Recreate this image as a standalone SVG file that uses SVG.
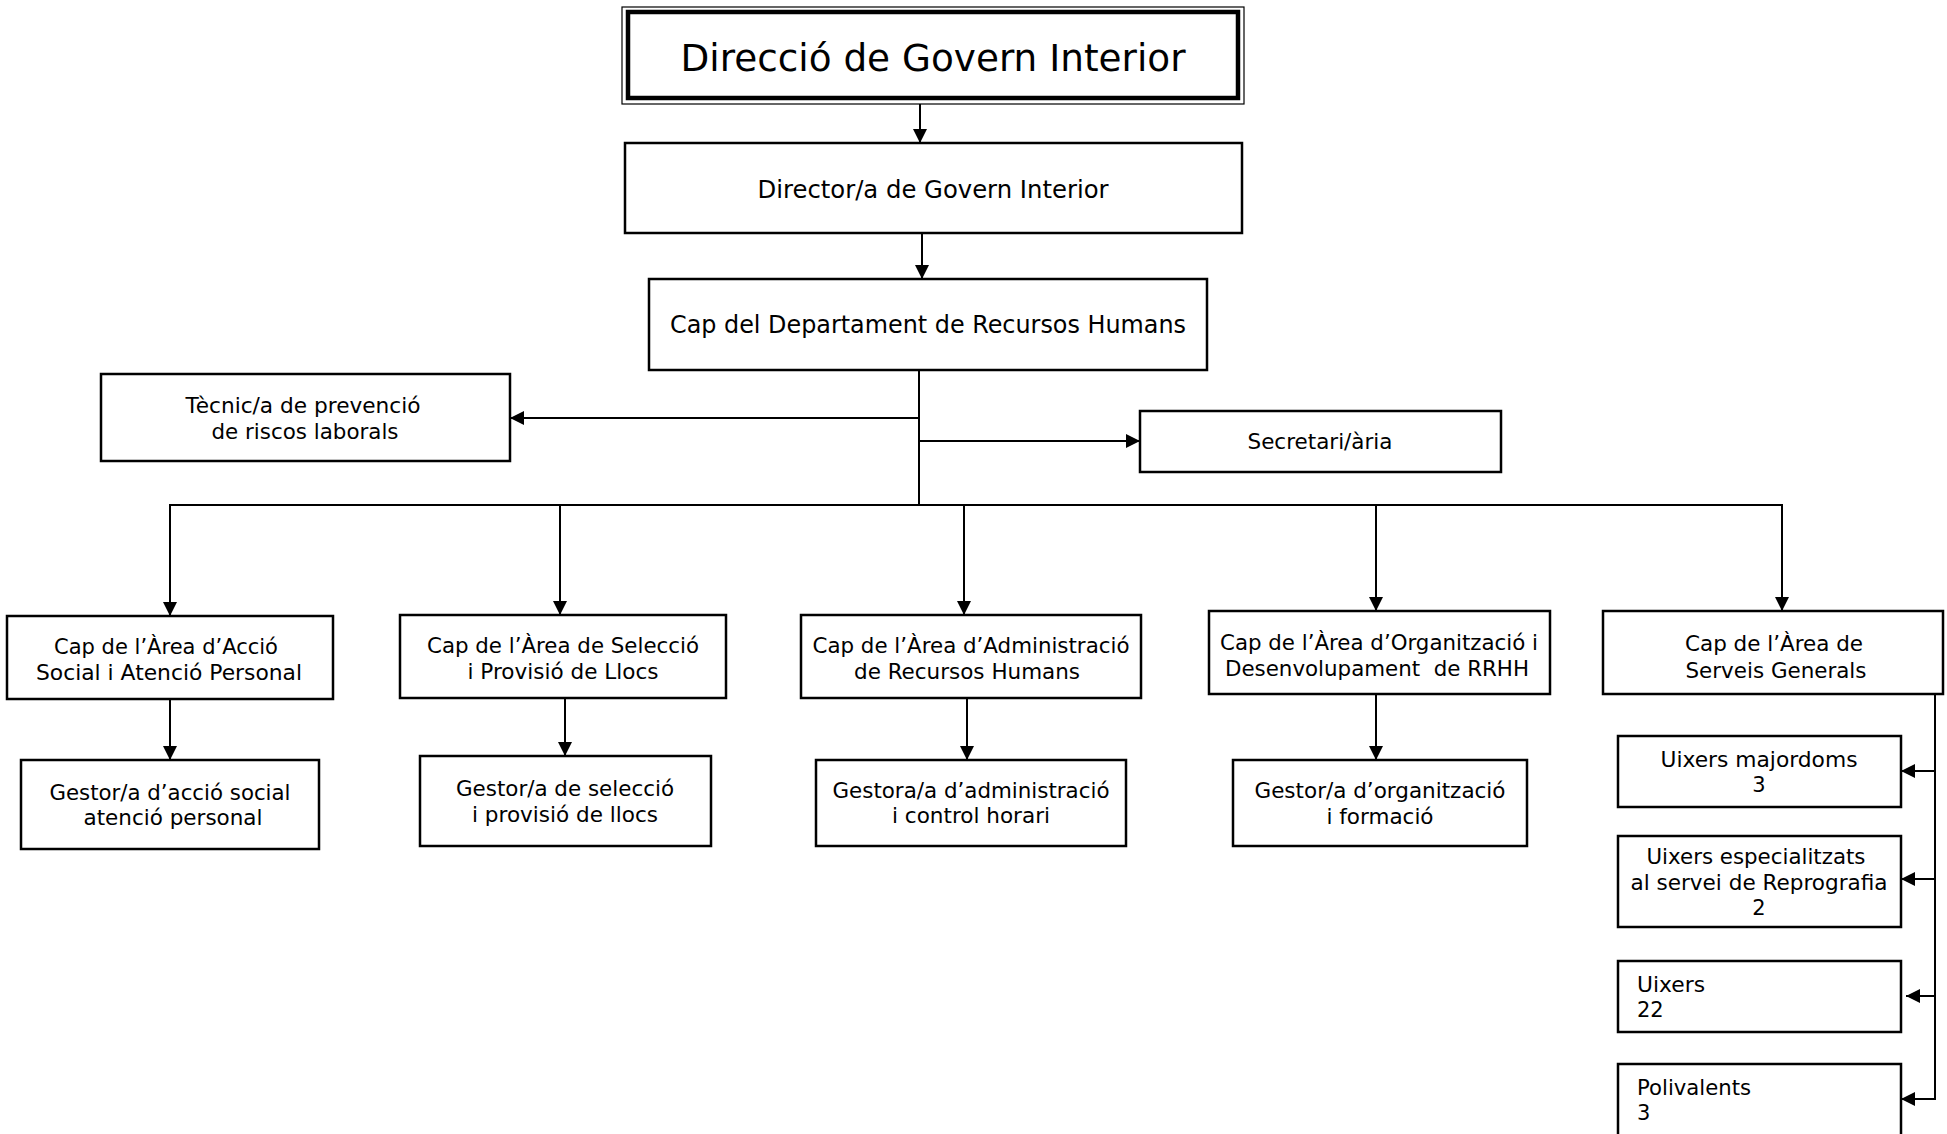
<svg xmlns="http://www.w3.org/2000/svg" width="1947" height="1134" viewBox="0 0 1947 1134">
<style>
.box{fill:#fff;stroke:#000;stroke-width:2.5}
.con{fill:none;stroke:#000;stroke-width:2}
.t{font-family:"DejaVu Sans",Verdana,sans-serif;font-size:21px;fill:#000;text-anchor:middle}
.l{font-family:"DejaVu Sans",Verdana,sans-serif;font-size:21px;fill:#000}
.big{font-size:37px}
.mid{font-size:24px}
</style>
<defs>
<marker id="ah" markerUnits="userSpaceOnUse" markerWidth="14" markerHeight="14" viewBox="0 0 14 14" refX="14" refY="7" orient="auto">
<path d="M0,0 L14,7 L0,14 Z" fill="#000"/>
</marker>
</defs>
<rect x="0" y="0" width="1947" height="1134" fill="#fff"/>
<g id="connectors">
<line class="con" x1="920" y1="104" x2="920" y2="143" marker-end="url(#ah)"/>
<line class="con" x1="922" y1="233" x2="922" y2="279" marker-end="url(#ah)"/>
<line class="con" x1="919" y1="370" x2="919" y2="505"/>
<line class="con" x1="919" y1="418" x2="510" y2="418" marker-end="url(#ah)"/>
<line class="con" x1="919" y1="441" x2="1140" y2="441" marker-end="url(#ah)"/>
<line class="con" x1="169" y1="505" x2="1783" y2="505"/>
<line class="con" x1="170" y1="505" x2="170" y2="616" marker-end="url(#ah)"/>
<line class="con" x1="560" y1="505" x2="560" y2="615" marker-end="url(#ah)"/>
<line class="con" x1="964" y1="505" x2="964" y2="615" marker-end="url(#ah)"/>
<line class="con" x1="1376" y1="505" x2="1376" y2="611" marker-end="url(#ah)"/>
<line class="con" x1="1782" y1="505" x2="1782" y2="611" marker-end="url(#ah)"/>
<line class="con" x1="170" y1="699" x2="170" y2="760" marker-end="url(#ah)"/>
<line class="con" x1="565" y1="698" x2="565" y2="756" marker-end="url(#ah)"/>
<line class="con" x1="967" y1="698" x2="967" y2="760" marker-end="url(#ah)"/>
<line class="con" x1="1376" y1="694" x2="1376" y2="760" marker-end="url(#ah)"/>
<polyline class="con" points="1935,694 1935,1099"/>
<line class="con" x1="1935" y1="771" x2="1901" y2="771" marker-end="url(#ah)"/>
<line class="con" x1="1935" y1="879" x2="1901" y2="879" marker-end="url(#ah)"/>
<line class="con" x1="1935" y1="996" x2="1906" y2="996" marker-end="url(#ah)"/>
<line class="con" x1="1936" y1="1099" x2="1901" y2="1099" marker-end="url(#ah)"/>
</g>
<g id="n-direccio">
<rect x="622" y="7" width="622" height="97" fill="#fff" stroke="#000" stroke-width="1.2"/>
<rect x="628" y="12" width="610" height="86" fill="none" stroke="#000" stroke-width="4.5"/>
<text class="t big" x="933" y="71" textLength="505" lengthAdjust="spacingAndGlyphs">Direcció de Govern Interior</text>
</g>
<g id="n-director">
<rect class="box" x="625" y="143" width="617" height="90"/>
<text class="t mid" x="933" y="198" textLength="351" lengthAdjust="spacingAndGlyphs">Director/a de Govern Interior</text>
</g>
<g id="n-cap-rrhh">
<rect class="box" x="649" y="279" width="558" height="91"/>
<text class="t mid" x="928" y="333" textLength="516" lengthAdjust="spacingAndGlyphs">Cap del Departament de Recursos Humans</text>
</g>
<g id="n-tecnic">
<rect class="box" x="101" y="374" width="409" height="87"/>
<text class="t" x="303" y="413" textLength="235" lengthAdjust="spacingAndGlyphs">Tècnic/a de prevenció</text>
<text class="t" x="305" y="439" textLength="187" lengthAdjust="spacingAndGlyphs">de riscos laborals</text>
</g>
<g id="n-secretari">
<rect class="box" x="1140" y="411" width="361" height="61"/>
<text class="t" x="1320" y="449" textLength="145" lengthAdjust="spacingAndGlyphs">Secretari/ària</text>
</g>
<g id="n-accio">
<rect class="box" x="7" y="616" width="326" height="83"/>
<text class="t" x="166" y="654" textLength="224" lengthAdjust="spacingAndGlyphs">Cap de l’Àrea d’Acció</text>
<text class="t" x="169" y="680" textLength="266" lengthAdjust="spacingAndGlyphs">Social i Atenció Personal</text>
</g>
<g id="n-seleccio">
<rect class="box" x="400" y="615" width="326" height="83"/>
<text class="t" x="563" y="653" textLength="272" lengthAdjust="spacingAndGlyphs">Cap de l’Àrea de Selecció</text>
<text class="t" x="563" y="679" textLength="191" lengthAdjust="spacingAndGlyphs">i Provisió de Llocs</text>
</g>
<g id="n-administracio">
<rect class="box" x="801" y="615" width="340" height="83"/>
<text class="t" x="971" y="653" textLength="317" lengthAdjust="spacingAndGlyphs">Cap de l’Àrea d’Administració</text>
<text class="t" x="967" y="679" textLength="226" lengthAdjust="spacingAndGlyphs">de Recursos Humans</text>
</g>
<g id="n-organitzacio">
<rect class="box" x="1209" y="611" width="341" height="83"/>
<text class="t" x="1379" y="650" textLength="318" lengthAdjust="spacingAndGlyphs">Cap de l’Àrea d’Organització i</text>
<text class="t" x="1377" y="676" textLength="304" lengthAdjust="spacingAndGlyphs" xml:space="preserve">Desenvolupament  de RRHH</text>
</g>
<g id="n-serveis">
<rect class="box" x="1603" y="611" width="340" height="83"/>
<text class="t" x="1774" y="651" textLength="178" lengthAdjust="spacingAndGlyphs">Cap de l’Àrea de</text>
<text class="t" x="1776" y="678" textLength="181" lengthAdjust="spacingAndGlyphs">Serveis Generals</text>
</g>
<g id="n-gestor-accio">
<rect class="box" x="21" y="760" width="298" height="89"/>
<text class="t" x="170" y="800" textLength="241" lengthAdjust="spacingAndGlyphs">Gestor/a d’acció social</text>
<text class="t" x="173" y="825" textLength="179" lengthAdjust="spacingAndGlyphs">atenció personal</text>
</g>
<g id="n-gestor-seleccio">
<rect class="box" x="420" y="756" width="291" height="90"/>
<text class="t" x="565" y="796" textLength="218" lengthAdjust="spacingAndGlyphs">Gestor/a de selecció</text>
<text class="t" x="565" y="822" textLength="186" lengthAdjust="spacingAndGlyphs">i provisió de llocs</text>
</g>
<g id="n-gestor-admin">
<rect class="box" x="816" y="760" width="310" height="86"/>
<text class="t" x="971" y="798" textLength="277" lengthAdjust="spacingAndGlyphs">Gestora/a d’administració</text>
<text class="t" x="971" y="823" textLength="158" lengthAdjust="spacingAndGlyphs">i control horari</text>
</g>
<g id="n-gestor-org">
<rect class="box" x="1233" y="760" width="294" height="86"/>
<text class="t" x="1380" y="798" textLength="251" lengthAdjust="spacingAndGlyphs">Gestor/a d’organització</text>
<text class="t" x="1380" y="824" textLength="107" lengthAdjust="spacingAndGlyphs">i formació</text>
</g>
<g id="n-majordoms">
<rect class="box" x="1618" y="736" width="283" height="71"/>
<text class="t" x="1759" y="767" textLength="197" lengthAdjust="spacingAndGlyphs">Uixers majordoms</text>
<text class="t" x="1759" y="792">3</text>
</g>
<g id="n-reprografia">
<rect class="box" x="1618" y="836" width="283" height="91"/>
<text class="t" x="1756" y="864" textLength="219" lengthAdjust="spacingAndGlyphs">Uixers especialitzats</text>
<text class="t" x="1759" y="890" textLength="257" lengthAdjust="spacingAndGlyphs">al servei de Reprografia</text>
<text class="t" x="1759" y="915">2</text>
</g>
<g id="n-uixers">
<rect class="box" x="1618" y="961" width="283" height="71"/>
<text class="l" x="1637" y="992" textLength="68" lengthAdjust="spacingAndGlyphs">Uixers</text>
<text class="l" x="1637" y="1017">22</text>
</g>
<g id="n-polivalents">
<rect class="box" x="1618" y="1064" width="283" height="82"/>
<text class="l" x="1637" y="1095" textLength="114" lengthAdjust="spacingAndGlyphs">Polivalents</text>
<text class="l" x="1637" y="1120">3</text>
</g>
</svg>
